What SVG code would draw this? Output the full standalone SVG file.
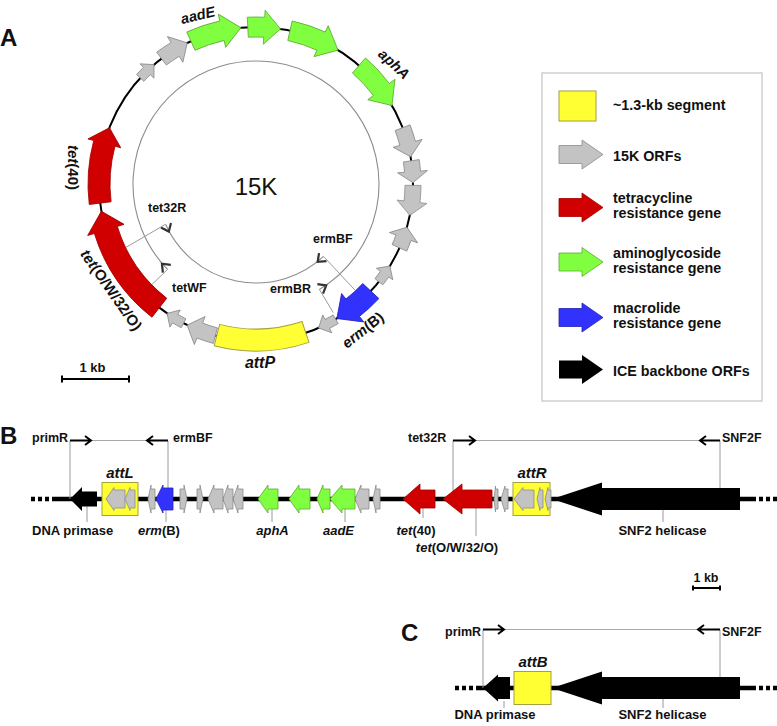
<svg xmlns="http://www.w3.org/2000/svg" width="777" height="726" viewBox="0 0 777 726">
<style>
text{font-family:"Liberation Sans",Arial,sans-serif;font-weight:bold;fill:#111}
.it{font-style:italic}
.reg{font-weight:normal}
.panel{font-size:24px}
.lab{font-size:13px}
.pr{font-size:12.5px}
.lg{font-size:14.3px}
.gray{fill:#C3C3C3;stroke:#8C8C8C;stroke-width:0.8}
.green{fill:#80FF40;stroke:#5FA832;stroke-width:0.8}
.red{fill:#D00000;stroke:#A00000;stroke-width:0.8}
.blue{fill:#3232FF;stroke:#2222B0;stroke-width:0.8}
.yellow{fill:#FFFF33;stroke:#A5A040;stroke-width:1}
.black{fill:#000}
.bb{stroke:#000;stroke-width:4.5;fill:none}
.dots{stroke:#000;stroke-width:4.5;stroke-dasharray:4 3;fill:none}
.lead{stroke:#9A9A9A;stroke-width:1;fill:none}
.parc{stroke:#8C8C8C;stroke-width:1.1;fill:none}
.prim{stroke:#000;stroke-width:2;fill:none}
.pline{stroke:#A8A8A8;stroke-width:1.2;fill:none}
.scale{stroke:#000;stroke-width:2;fill:none}
.chev{fill:none;stroke:#333;stroke-width:2.2;stroke-linejoin:miter}
</style>
<defs>
<path id="tA" d="M162,0 A162,162 0 0 1 161.70,9.89 L166.69,10.20 L155.83,19.13 L146.73,8.97 L151.72,9.28 A152,152 0 0 0 152,0 Z"/>
<path id="tB" d="M165,0 A165,165 0 0 1 164.10,17.25 L171.06,17.98 L154.12,29.96 L141.22,14.84 L148.18,15.57 A149,149 0 0 0 149,0 Z"/>
<path id="tB2" d="M165,0 A165,165 0 0 1 164.60,11.51 L171.58,12.00 L155.47,21.85 L141.65,9.91 L148.64,10.39 A149,149 0 0 0 149,0 Z"/>
<path id="tC" d="M167,0 A167,167 0 0 1 163.35,34.72 L170.20,36.18 L148.45,51.11 L136.94,29.11 L143.79,30.56 A147,147 0 0 0 147,0 Z"/>
<path id="tD" d="M167,0 A167,167 0 0 1 166.09,17.46 L173.05,18.19 L153.57,32.64 L139.23,14.63 L146.19,15.37 A147,147 0 0 0 147,0 Z"/>
<path id="tF" d="M168,0 A168,168 0 0 1 155.77,62.93 L161.33,65.18 L138.62,73.71 L129.81,52.45 L135.37,54.69 A146,146 0 0 0 146,0 Z"/>
<path id="tG" d="M169,0 A169,169 0 0 1 138.44,96.94 L144.17,100.95 L116.67,105.05 L113.04,79.15 L118.78,83.17 A145,145 0 0 0 145,0 Z"/>
<path id="tH" d="M168,0 A168,168 0 0 1 165.93,26.28 L172.85,27.38 L150.92,43.28 L137.29,21.74 L144.20,22.84 A146,146 0 0 0 146,0 Z"/>
<path id="tY" d="M167,0 A167,167 0 0 1 140.06,90.95 L121.61,78.97 A145,145 0 0 0 145,0 Z"/>
<path id="lgArrow" d="M0,-9 H23 V-14.5 L44,0 L23,14.5 V9 H0 Z"/>
<marker id="chS" markerUnits="userSpaceOnUse" markerWidth="20" markerHeight="20" viewBox="-10 -10 20 20" refX="0" refY="0" orient="auto" overflow="visible"><path class="chev" d="M1,-5.5 L8,0 L1,5.5"/></marker>
<marker id="chE" markerUnits="userSpaceOnUse" markerWidth="20" markerHeight="20" viewBox="-10 -10 20 20" refX="0" refY="0" orient="auto" overflow="visible"><path class="chev" d="M-1,-5.5 L-8,0 L-1,5.5"/></marker>
</defs>

<rect width="777" height="726" fill="#fff"/>

<!-- backbones -->
<g id="backbones">
<circle cx="256" cy="184" r="157" fill="none" stroke="#000" stroke-width="2"/>
<path class="dots" d="M31,499 H50"/>
<path class="bb" d="M52,499 H756"/>
<path class="dots" d="M759,499 H778"/>
<path class="dots" d="M455,688 H475"/>
<path class="bb" d="M476,688 H756"/>
<path class="dots" d="M759,688 H778"/>
</g>

<!-- connectors -->
<g id="connectors">
<path class="parc" d="M167.52,269.44 A123,123 0 1 1 319.35,289.43" marker-start="url(#chS)" marker-end="url(#chE)"/>
<path class="parc" d="M323.52,256.40 A99,99 0 0 1 165.56,224.27" marker-start="url(#chS)" marker-end="url(#chE)"/>
<path class="lead" d="M167.52,269.44 L151.70,284.73"/>
<path class="lead" d="M319.35,289.43 L333.26,312.58"/>
<path class="lead" d="M323.52,256.40 L355.57,290.78"/>
<path class="lead" d="M165.56,224.27 L125.68,247.56"/>
<!-- panel B primers -->
<path class="pline" d="M91,440.5 H147"/>
<path class="lead" d="M70,440.5 V499 M168,440.5 V490"/>
<path class="prim" d="M70,440.5 H91 M85,436 L91,440.5 L85,445"/>
<path class="prim" d="M168,440.5 H147 M153,436 L147,440.5 L153,445"/>
<path class="pline" d="M475,440.5 H700"/>
<path class="lead" d="M453,440.5 V499 M720,440.5 V499"/>
<path class="prim" d="M453,440.5 H475 M469,436 L475,440.5 L469,445"/>
<path class="prim" d="M720,440.5 H700 M706,436 L700,440.5 L706,445"/>
<!-- panel B label leaders -->
<path class="lead" d="M87,506 V522 M166,510 V522 M272,509 V522 M345,509 V522 M423,507 V518 M476,507 V536 M663,510 V522"/>
<!-- panel C primers -->
<path class="pline" d="M504,629.5 H698"/>
<path class="lead" d="M483,629.5 V688 M720,629.5 V688"/>
<path class="prim" d="M483,629.5 H504 M498,625 L504,629.5 L498,634"/>
<path class="prim" d="M720,629.5 H698 M704,625 L698,629.5 L704,634"/>
<path class="lead" d="M504,701 V708 M663,699 V708"/>
</g>

<!-- Panel A genes -->
<g transform="translate(256,184)">
<g id="A-attP"><use href="#tY" class="yellow" transform="rotate(71.5)"/></g>
<g id="A-orf11"><use href="#tB" class="gray" transform="rotate(105)"/></g>
<g id="A-orf12"><use href="#tA" class="gray" transform="rotate(117.5)"/></g>
<g id="A-tetO"><use href="#tG" class="red" transform="rotate(128)"/></g>
<g id="A-tet40"><use href="#tF" class="red" transform="rotate(173)"/></g>
<g id="A-orf1"><use href="#tA" class="gray" transform="rotate(222.5)"/></g>
<g id="A-orf2"><use href="#tB" class="gray" transform="rotate(233)"/></g>
<g id="A-aadE"><use href="#tC" class="green" transform="rotate(245.5)"/></g>
<g id="A-green2"><use href="#tD" class="green" transform="rotate(267)"/></g>
<g id="A-green3"><use href="#tC" class="green" transform="rotate(282.5)"/></g>
<g id="A-aphA"><use href="#tC" class="green" transform="rotate(311)"/></g>
<g id="A-orf7a"><use href="#tB" class="gray" transform="rotate(339)"/></g>
<g id="A-orf7b"><use href="#tB2" class="gray" transform="rotate(351.5)"/></g>
<g id="A-orf7c"><use href="#tB" class="gray" transform="rotate(0.5)"/></g>
<g id="A-orf7d"><use href="#tB2" class="gray" transform="rotate(24) scale(1,-1)"/></g>
<g id="A-orf7e"><use href="#tA" class="gray" transform="rotate(38.5) scale(1,-1)"/></g>
<g id="A-ermB"><use href="#tH" class="blue" transform="rotate(43)"/></g>
<g id="A-orf9"><use href="#tA" class="gray" transform="rotate(59.5)"/></g>
</g>

<!-- Panel A labels -->
<g id="A-labels">
<text class="panel" x="0" y="45.5" font-size="26">A</text>
<text class="reg" x="256" y="195" font-size="24" text-anchor="middle" fill="#222">15K</text>
<text class="it" font-size="14.5" x="199" y="20" text-anchor="middle" transform="rotate(-13 199 20)">aadE</text>
<text class="it" font-size="14.5" x="390.6" y="67.7" text-anchor="middle" transform="rotate(43 390.6 67.7)">aphA</text>
<text font-size="15" x="67.5" y="167.5" text-anchor="middle" transform="rotate(90 67.5 167.5)"><tspan class="it">tet</tspan>(40)</text>
<text font-size="15" x="107" y="293" text-anchor="middle" transform="rotate(55 107 293)"><tspan class="it">tet</tspan>(O/W/32/O)</text>
<text font-size="15" x="366" y="334" text-anchor="middle" transform="rotate(-38 366 334)"><tspan class="it">erm</tspan>(B)</text>
<text class="it" font-size="16" x="260" y="368" text-anchor="middle">attP</text>
<text class="pr" x="148" y="212" fill="#222">tet32R</text>
<text class="pr" x="172" y="292" fill="#222">tetWF</text>
<text class="pr" x="313" y="243" fill="#222">ermBF</text>
<text class="pr" x="270" y="293" fill="#222">ermBR</text>
</g>
<g id="A-scale">
<text class="lab" x="92.5" y="372" text-anchor="middle">1 kb</text>
<path class="scale" d="M62,379 H129 M62,375.5 V382.5 M129,375.5 V382.5" stroke-width="1.8"/>
</g>

<!-- Legend -->
<g id="legend">
<rect x="542" y="73" width="220" height="328" fill="#fff" stroke="#D0D0D0" stroke-width="1.5"/>
<rect x="559" y="91" width="37" height="30" class="yellow"/>
<use href="#lgArrow" class="gray" transform="translate(559,154.5)"/>
<use href="#lgArrow" class="red" transform="translate(559,207.5)"/>
<use href="#lgArrow" class="green" transform="translate(559,262)"/>
<use href="#lgArrow" class="blue" transform="translate(559,317.5)"/>
<use href="#lgArrow" class="black" transform="translate(559,369.5)"/>
<text class="lg" x="613" y="110">~1.3-kb segment</text>
<text class="lg" x="613" y="161">15K ORFs</text>
<text class="lg" x="613" y="203">tetracycline</text>
<text class="lg" x="613" y="218">resistance gene</text>
<text class="lg" x="613" y="258">aminoglycoside</text>
<text class="lg" x="613" y="273">resistance gene</text>
<text class="lg" x="613" y="313">macrolide</text>
<text class="lg" x="613" y="328">resistance gene</text>
<text class="lg" x="613" y="376">ICE backbone ORFs</text>
</g>

<!-- Panel B genes -->
<g id="B-primase"><path class="black" d="M97,491.5 H82 V487 L70,499 L82,511 V506.5 H97 Z"/></g>
<g id="B-attL">
<rect x="102" y="482.5" width="36" height="33" class="yellow"/>
<path class="gray" d="M125,490 H114 V487.5 L106,499 L114,510.5 V508 H125 Z"/>
<path class="gray" d="M135,490 H130 V487.5 L125,499 L130,510.5 V508 H135 Z"/>
</g>
<g id="B-orf9"><path class="gray" d="M155,489 H151 V485 L148,499 L151,513 V509 H155 Z"/></g>
<g id="B-ermB"><path class="blue" d="M173,488 H163 V485 L156,499 L163,513 V510 H173 Z"/></g>
<g id="B-orf7e"><path class="gray" d="M180,489 H184 V485 L187,499 L184,513 V509 H180 Z"/></g>
<g id="B-orf7d"><path class="gray" d="M197,489 H200 V485 L203,499 L200,513 V509 H197 Z"/></g>
<g id="B-orf7c"><path class="gray" d="M223,489 H214 V485 L208,499 L214,513 V509 H223 Z"/></g>
<g id="B-orf7b"><path class="gray" d="M233,489 H228 V485 L223,499 L228,513 V509 H233 Z"/></g>
<g id="B-orf7a"><path class="gray" d="M243,489 H238 V485 L233,499 L238,513 V509 H243 Z"/></g>
<g id="B-aphA"><path class="green" d="M278,489 H268 V485 L258,499 L268,513 V509 H278 Z"/></g>
<g id="B-green3"><path class="green" d="M310,489 H299 V485 L289,499 L299,513 V509 H310 Z"/></g>
<g id="B-green2"><path class="green" d="M330,489 H323 V485 L317,499 L323,513 V509 H330 Z"/></g>
<g id="B-aadE"><path class="green" d="M355,489 H342 V485 L330,499 L342,513 V509 H355 Z"/></g>
<g id="B-orf2"><path class="gray" d="M369,489 H361 V485 L355,499 L361,513 V509 H369 Z"/></g>
<g id="B-orf1"><path class="gray" d="M380,489 H376 V485 L373,499 L376,513 V509 H380 Z"/></g>
<g id="B-tet40"><path class="red" d="M435,490 H420 V484 L403,499 L420,514 V508 H435 Z"/></g>
<g id="B-tetO"><path class="red" d="M492,490 H462 V484 L443,499 L462,514 V508 H492 Z"/></g>
<g id="B-orf12"><path class="gray" d="M498,489 H495.5 V486 L494,499 L495.5,512 V509 H498 Z"/></g>
<g id="B-orf11"><path class="gray" d="M508,489 H505 V486 L501,499 L505,512 V509 H508 Z"/></g>
<g id="B-attR">
<rect x="513" y="482.5" width="37" height="33" class="yellow"/>
<path class="gray" d="M534,490 H523 V487.5 L514,499 L523,510.5 V508 H534 Z"/>
<path class="gray" d="M543,490 H540 V487.5 L537,499 L540,510.5 V508 H543 Z"/>
<path class="gray" d="M551,490 H548 V487.5 L545,499 L548,510.5 V508 H551 Z"/>
</g>
<g id="B-SNF2"><path class="black" d="M740,488 H602 V482.5 L552,499 L602,515.5 V510 H740 Z"/></g>

<g id="B-labels">
<text class="panel" x="0" y="444" font-size="22">B</text>
<text class="pr" x="32" y="442">primR</text>
<text class="pr" x="173" y="442">ermBF</text>
<text class="pr" x="408" y="442">tet32R</text>
<text class="pr" x="722" y="442">SNF2F</text>
<text class="it" font-size="15" x="120" y="478" text-anchor="middle">attL</text>
<text class="it" font-size="15" x="532" y="478" text-anchor="middle">attR</text>
<text class="lab" x="32" y="535">DNA primase</text>
<text class="lab" x="159" y="535" text-anchor="middle"><tspan class="it">erm</tspan>(B)</text>
<text class="lab it" x="272.5" y="535" text-anchor="middle">aphA</text>
<text class="lab it" x="338.5" y="535" text-anchor="middle">aadE</text>
<text class="lab" x="416" y="535" text-anchor="middle"><tspan class="it">tet</tspan>(40)</text>
<text class="lab" x="457" y="552" text-anchor="middle"><tspan class="it">tet</tspan>(O/W/32/O)</text>
<text class="lab" x="662.5" y="535" text-anchor="middle">SNF2 helicase</text>
</g>
<g id="B-scale">
<text class="pr" x="706" y="582" text-anchor="middle">1 kb</text>
<path class="scale" d="M693,588 H720 M693,585.5 V590.5 M720,585.5 V590.5" stroke-width="1.8"/>
</g>

<!-- Panel C -->
<g id="C-primase"><path class="black" d="M510,677 H498 V674.5 L483,688 L498,701.5 V699 H510 Z"/></g>
<g id="C-attB"><rect x="514" y="671.5" width="37" height="33" class="yellow"/></g>
<g id="C-SNF2"><path class="black" d="M740,677 H602 V671.5 L552,688 L602,704.5 V699 H740 Z"/></g>
<g id="C-labels">
<text class="panel" x="401" y="641" font-size="22">C</text>
<text class="pr" x="445" y="636">primR</text>
<text class="pr" x="722" y="636">SNF2F</text>
<text class="it" font-size="15" x="533" y="667" text-anchor="middle">attB</text>
<text class="lab" x="495" y="719" text-anchor="middle">DNA primase</text>
<text class="lab" x="662.5" y="719" text-anchor="middle">SNF2 helicase</text>
</g>
</svg>
